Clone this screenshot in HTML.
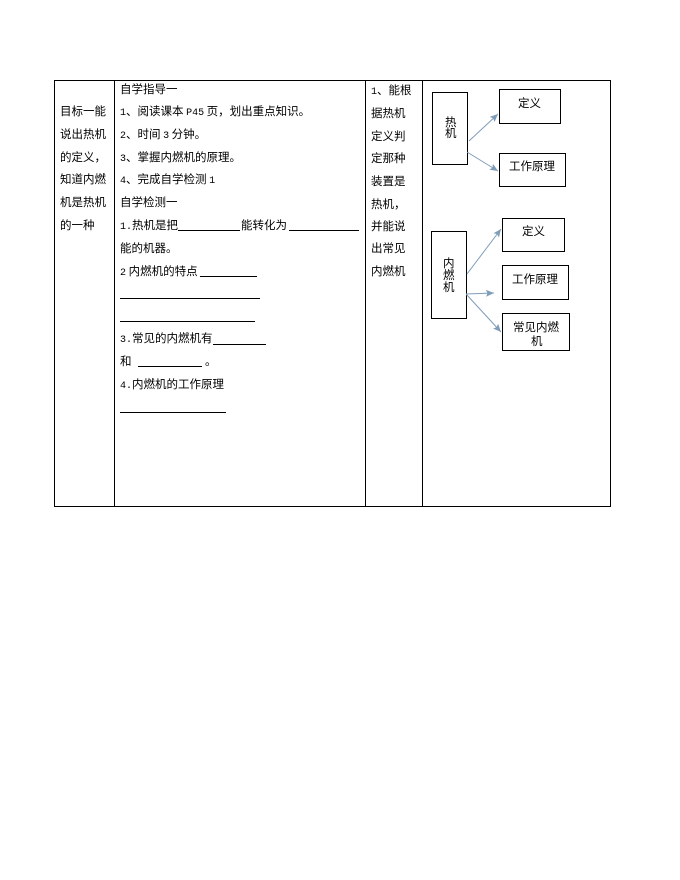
<!DOCTYPE html>
<html><head><meta charset="utf-8">
<style>
html,body{margin:0;padding:0;background:#fff}
#p{position:relative;width:680px;height:880px;overflow:hidden;background:#fff;color:#000;font:11.5px/14px "WenQuanYi Zen Hei","Noto Sans CJK SC",sans-serif}
.t{position:absolute;white-space:pre;height:14px}
.m{font:10px/14px "Liberation Mono",monospace}
.l{position:absolute;height:1px;background:#000}
.v{position:absolute;width:1px;background:#000}
.b{position:absolute;border:1px solid #000;box-sizing:border-box}
svg{position:absolute;left:0;top:0}
</style></head><body><div id="p">
<div class="l" style="left:54px;top:80px;width:557px"></div>
<div class="l" style="left:54px;top:506px;width:557px"></div>
<div class="v" style="left:54px;top:80px;height:427px"></div>
<div class="v" style="left:114px;top:80px;height:427px"></div>
<div class="v" style="left:365px;top:80px;height:427px"></div>
<div class="v" style="left:422px;top:80px;height:427px"></div>
<div class="v" style="left:610px;top:80px;height:427px"></div>

<div class="t" style="left:60px;top:104px">目标一能</div>
<div class="t" style="left:60px;top:127px">说出热机</div>
<div class="t" style="left:60px;top:150px">的定义，</div>
<div class="t" style="left:60px;top:172px">知道内燃</div>
<div class="t" style="left:60px;top:195px">机是热机</div>
<div class="t" style="left:60px;top:218px">的一种</div>

<div class="t" style="left:120px;top:82px">自学指导一</div>
<div class="t" style="left:120px;top:104px"><span class="m">1</span>、阅读课本 <span class="m">P45</span> 页，划出重点知识。</div>
<div class="t" style="left:120px;top:127px"><span class="m">2</span>、时间 <span class="m">3</span> 分钟。</div>
<div class="t" style="left:120px;top:150px"><span class="m">3</span>、掌握内燃机的原理。</div>
<div class="t" style="left:120px;top:172px"><span class="m">4</span>、完成自学检测 <span class="m">1</span></div>
<div class="t" style="left:120px;top:195px">自学检测一</div>
<div class="t" style="left:120px;top:218px"><span class="m">1.</span>热机是把</div>
<div class="t" style="left:241px;top:218px">能转化为</div>
<div class="l" style="left:178px;top:230px;width:62px"></div>
<div class="l" style="left:289px;top:230px;width:70px"></div>
<div class="t" style="left:120px;top:241px">能的机器。</div>
<div class="t" style="left:120px;top:264px"><span class="m">2</span> 内燃机的特点</div>
<div class="l" style="left:200px;top:276px;width:57px"></div>
<div class="l" style="left:120px;top:298px;width:140px"></div>
<div class="l" style="left:120px;top:321px;width:135px"></div>
<div class="t" style="left:120px;top:331px"><span class="m">3.</span>常见的内燃机有</div>
<div class="l" style="left:213px;top:344px;width:53px"></div>
<div class="t" style="left:120px;top:354px">和</div>
<div class="l" style="left:138px;top:366px;width:64px"></div>
<div class="t" style="left:205px;top:354px">。</div>
<div class="t" style="left:120px;top:377px"><span class="m">4.</span>内燃机的工作原理</div>
<div class="l" style="left:120px;top:412px;width:106px"></div>

<div class="t" style="left:371px;top:83px"><span class="m">1</span>、能根</div>
<div class="t" style="left:371px;top:106px">据热机</div>
<div class="t" style="left:371px;top:129px">定义判</div>
<div class="t" style="left:371px;top:151px">定那种</div>
<div class="t" style="left:371px;top:174px">装置是</div>
<div class="t" style="left:371px;top:197px">热机，</div>
<div class="t" style="left:371px;top:219px">并能说</div>
<div class="t" style="left:371px;top:241px">出常见</div>
<div class="t" style="left:371px;top:264px">内燃机</div>

<div class="b" style="left:432px;top:92px;width:36px;height:73px"></div>
<div class="t" style="left:445px;top:117px;line-height:11px;height:22px">热<br>机</div>
<div class="b" style="left:499px;top:89px;width:62px;height:35px"></div>
<div class="t" style="left:518px;top:96px">定义</div>
<div class="b" style="left:499px;top:153px;width:67px;height:34px"></div>
<div class="t" style="left:509px;top:159px">工作原理</div>

<div class="b" style="left:431px;top:231px;width:36px;height:88px"></div>
<div class="t" style="left:443px;top:257px;line-height:12px;height:36px">内<br>燃<br>机</div>
<div class="b" style="left:502px;top:218px;width:63px;height:34px"></div>
<div class="t" style="left:522px;top:224px">定义</div>
<div class="b" style="left:502px;top:265px;width:67px;height:35px"></div>
<div class="t" style="left:512px;top:272px">工作原理</div>
<div class="b" style="left:502px;top:313px;width:68px;height:38px"></div>
<div class="t" style="left:513px;top:320px">常见内燃</div>
<div class="t" style="left:531px;top:334px">机</div>

<svg width="680" height="880" viewBox="0 0 680 880">
<defs><marker id="a" markerWidth="10" markerHeight="8" refX="8" refY="3.5" orient="auto" markerUnits="userSpaceOnUse"><path d="M0 0L8 3.5L0 7L1.5 3.5Z" fill="#7f9db9"/></marker></defs>
<g stroke="#7f9db9" stroke-width="1" fill="none">
<line x1="469" y1="141" x2="498" y2="114" marker-end="url(#a)"/>
<line x1="467" y1="152" x2="498" y2="171" marker-end="url(#a)"/>
<line x1="467" y1="274" x2="501" y2="229" marker-end="url(#a)"/>
<line x1="466" y1="294" x2="494" y2="293" marker-end="url(#a)"/>
<line x1="466" y1="294" x2="501" y2="332" marker-end="url(#a)"/>
</g>
</svg>
</div></body></html>
